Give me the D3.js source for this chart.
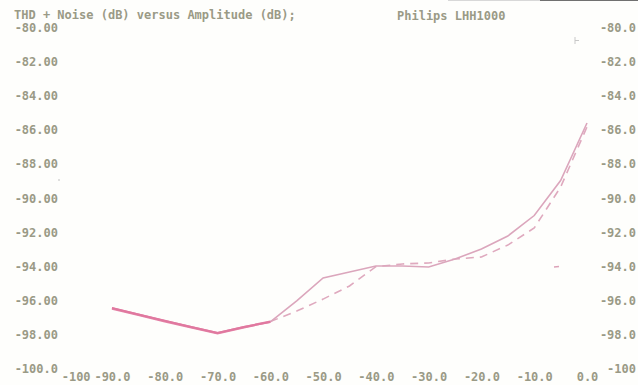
<!DOCTYPE html>
<html><head><meta charset="utf-8">
<script src="https://cdn.jsdelivr.net/npm/d3@7"></script>
<style>
html,body{margin:0;padding:0;background:#fefefc;}
svg{display:block;}
.lbl{font-family:"DejaVu Sans Mono",monospace;font-size:12px;font-weight:bold;fill:#9a9a86;}
</style></head><body>
<div id="chart"></div>
<script>
const title = "THD + Noise (dB) versus Amplitude (dB);";
const subtitle = "Philips LHH1000";
const amplitude = [-90,-85,-80,-75,-70,-65,-60,-55,-50,-45,-40,-35,-30,-25,-20,-15,-10,-5,0];
const seriesA = [-96.42,-96.80,-97.17,-97.54,-97.89,-97.54,-97.24,-96.00,-94.66,-94.31,-93.96,-93.96,-94.02,-93.55,-92.96,-92.20,-91.00,-88.95,-85.57];
const seriesB = [-96.45,-96.82,-97.20,-97.55,-97.90,-97.55,-97.22,-96.60,-95.90,-95.13,-94.00,-93.84,-93.78,-93.55,-93.43,-92.73,-91.73,-89.33,-85.80];
const xTicks = [-100,-90,-80,-70,-60,-50,-40,-30,-20,-10,0];
const xTickLabels = ["-100","-90.0","-80.0","-70.0","-60.0","-50.0","-40.0","-30.0","-20.0","-10.0","0.0"];
const yTicks = [-80,-82,-84,-86,-88,-90,-92,-94,-96,-98,-100];
const yLeftLabels = ["-80.00","-82.00","-84.00","-86.00","-88.00","-90.00","-92.00","-94.00","-96.00","-98.00","-100.0"];
const yRightLabels = ["-80.0","-82.0","-84.0","-86.0","-88.0","-90.0","-92.0","-94.0","-96.0","-98.0","-100"];

const W = 638, H = 385;
const svg = d3.select("#chart").append("svg").attr("width", W).attr("height", H);
svg.append("rect").attr("width", W).attr("height", H).attr("fill", "#fefefc");

const x = d3.scaleLinear().domain([-100, 0]).range([59.2, 587]);
const y = d3.scaleLinear().domain([-100, -80]).range([369, 28]);

// top edge artifact
svg.append("line").attr("x1",448).attr("x2",540).attr("y1",0.5).attr("y2",0.5).attr("stroke","#d8d8d8");
svg.append("line").attr("x1",540).attr("x2",638).attr("y1",0.5).attr("y2",0.5).attr("stroke","#707070");

// titles
svg.append("text").attr("class","lbl").attr("x",14).attr("y",15).attr("dominant-baseline","middle").text(title);
svg.append("text").attr("class","lbl").attr("x",397).attr("y",16).attr("dominant-baseline","middle").text(subtitle);

function styleText(g){
  g.select(".domain").remove();
  g.selectAll("text").attr("class","lbl").attr("font-family",null).attr("font-size",null)
    .attr("fill",null).attr("dy",null).attr("dominant-baseline","middle");
}

// left axis
const yl = d3.axisLeft(y).tickValues(yTicks).tickSize(0).tickPadding(0)
  .tickFormat((d,i)=>yLeftLabels[i]);
const gl = svg.append("g").attr("transform","translate(58,0)").call(yl);
styleText(gl);

// right axis labels
const yr = d3.axisLeft(y).tickValues(yTicks).tickSize(0).tickPadding(0)
  .tickFormat((d,i)=>yRightLabels[i]);
const gr = svg.append("g").attr("transform","translate(636,0)").call(yr);
styleText(gr);

// bottom axis
const xb = d3.axisBottom(x).tickValues(xTicks).tickSize(0).tickPadding(0)
  .tickFormat((d,i)=>xTickLabels[i]);
const gb = svg.append("g").attr("transform","translate(0,377)").call(xb);
styleText(gb);
gb.selectAll("text").attr("y",0)
  .attr("text-anchor",(d)=> d===-100 ? "start" : "middle")
  .attr("dx",(d)=> d===-100 ? 2 : 0);

const line = d3.line().x(d=>x(d[0])).y(d=>y(d[1]));
const dataA = amplitude.map((a,i)=>[a, seriesA[i]]);
const dataB = amplitude.map((a,i)=>[a, seriesB[i]]);

// series B dashed
svg.append("path").datum(dataB.slice(6)).attr("d", line)
  .attr("fill","none").attr("stroke","#dfa9be").attr("stroke-width",1.6)
  .attr("stroke-dasharray","8,6");
// series A right part (light)
svg.append("path").datum(dataA.slice(6)).attr("d", line)
  .attr("fill","none").attr("stroke","#dba6bc").attr("stroke-width",1.6);
// left part thick
svg.append("path").datum(dataB.slice(0,7)).attr("d", line)
  .attr("fill","none").attr("stroke","#e585a8").attr("stroke-width",2.4);
svg.append("path").datum(dataA.slice(0,7)).attr("d", line)
  .attr("fill","none").attr("stroke","#e0789f").attr("stroke-width",2);

// small stray marks
svg.append("line").attr("x1",554).attr("x2",559).attr("y1",267).attr("y2",266.5).attr("stroke","#dca2b8").attr("stroke-width",1.5);
svg.append("circle").attr("cx",59).attr("cy",180).attr("r",0.7).attr("fill","#aaaaaa");
svg.append("path").attr("d","M575,37V44M575,40.5H579").attr("stroke","#c8c8c8").attr("fill","none");
</script>
</body></html>
